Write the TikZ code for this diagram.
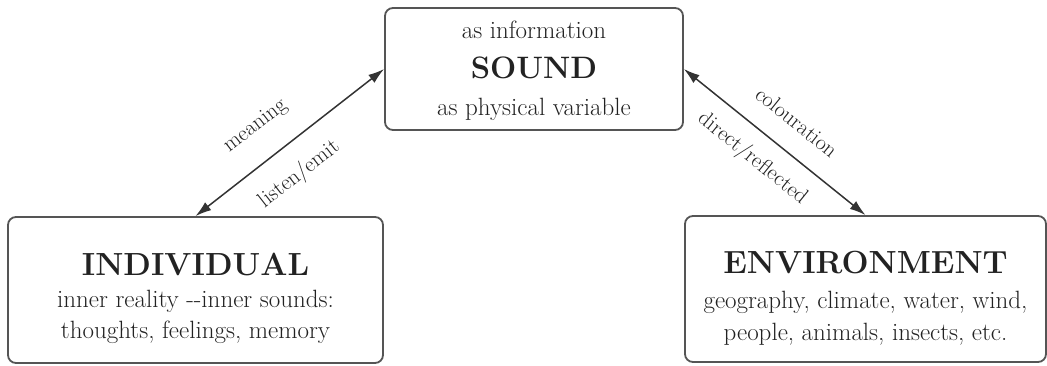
\documentclass[tikz,border=0pt]{standalone}
\usetikzlibrary{arrows.meta}
\definecolor{txt}{HTML}{222222}
\definecolor{boxc}{HTML}{555555}
\definecolor{arr}{HTML}{333333}
\newcommand{\hd}[1]{{\fontsize{32}{32}\selectfont\bfseries #1}}
\newcommand{\topstr}[1]{\rule{0pt}{#1}}
\newcommand{\botstr}{\rule[-8pt]{0pt}{8pt}}
\begin{document}
\begin{tikzpicture}[x=1pt,y=1pt,
  box/.style={draw=boxc, line width=1.8pt, rounded corners=8pt, align=center,
    text=txt, inner sep=0pt},
  conn/.style={draw=arr, line width=1.5pt,
    {Latex[length=16pt,width=10pt]}-{Latex[length=16pt,width=10pt]}},
  lbl/.style={text=txt, font=\fontsize{22}{24}\selectfont, inner sep=0pt, sloped}]
\useasboundingbox (0,0) rectangle (1047,365);
\node[box, minimum width=298pt, minimum height=122pt, font=\fontsize{25}{37}\selectfont] (snd) at (534,296)
  {\topstr{23pt}as information\\[3pt]{\fontsize{31}{31}\selectfont\bfseries SOUND}\\as physical variable\botstr};
\node[box, minimum width=375pt, minimum height=146pt, font=\fontsize{25}{31}\selectfont] (ind) at (195.5,75)
  {\topstr{41pt}\hd{INDIVIDUAL}\\[1pt]inner reality -{}-inner sounds:\\thoughts, feelings, memory\botstr};
\node[box, minimum width=361pt, minimum height=146pt, font=\fontsize{25}{32}\selectfont] (env) at (865.5,76)
  {\topstr{43pt}\hd{ENVIRONMENT}\\[3pt]geography, climate, water, wind,\\people, animals, insects, etc.\botstr};
\draw[conn] (ind.north) -- (snd.west)
  node[lbl, pos=0.43, above=24pt] (lmean) {meaning}
  node[lbl, pos=0.45, below=19pt] (llist) {listen/emit};
\draw[conn] (snd.east) -- (env.north)
  node[lbl, pos=0.52, above=21pt] (lcol) {colouration}
  node[lbl, pos=0.47, below=15pt] (ldir) {direct/reflected};
\end{tikzpicture}
\end{document}
